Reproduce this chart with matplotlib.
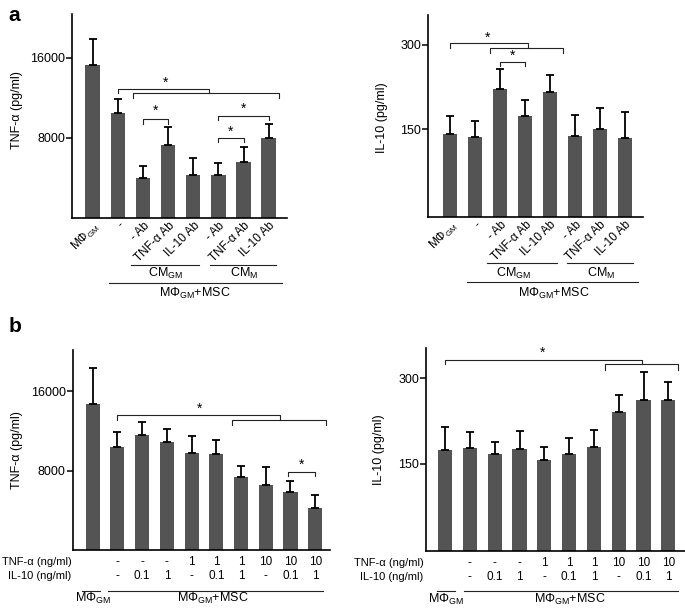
import numpy as np
import matplotlib
matplotlib.use('Agg')
import matplotlib.pyplot as plt

plt.rcParams['font.family'] = ['Liberation Sans', 'DejaVu Sans']
plt.rcParams['mathtext.fontset'] = 'custom'
plt.rcParams['mathtext.rm'] = 'Liberation Sans'
plt.rcParams['mathtext.it'] = 'Liberation Sans:italic'

# ── Data ─────────────────────────────────────────────────────────────────────
MGM = 'MΦ$_{\\mathrm{GM}}$'
a_labels     = [MGM, '-', '- Ab', 'TNF-α Ab', 'IL-10 Ab', '- Ab', 'TNF-α Ab', 'IL-10 Ab']
a_tnf_mean   = [15260, 10490, 3990, 7330, 4330, 4330, 5630, 7960]
a_tnf_err    = [2600, 1400, 1200, 1760, 1660, 1130, 1460, 1400]
a_il10_mean  = [141, 136, 222, 173, 216, 138, 150, 134]
a_il10_err   = [33, 28, 35, 30, 31, 38, 37, 47]

b_tnf_mean   = [14680, 10360, 11540, 10870, 9790, 9690, 7320, 6580, 5870, 4190]
b_tnf_err    = [3620, 1520, 1350, 1350, 1690, 1350, 1190, 1830, 1120, 1350]
b_il10_mean  = [174, 177, 167, 176, 156, 167, 180, 240, 262, 262]
b_il10_err   = [40, 28, 21, 32, 24, 29, 29, 31, 49, 32]
b_tnf_dose   = ['', '-', '-', '-', '1', '1', '1', '10', '10', '10']
b_il10_dose  = ['', '-', '0.1', '1', '-', '0.1', '1', '-', '0.1', '1']
# ─────────────────────────────────────────────────────────────────────────────

BAR_COLOR = '#545454'
FS = 9


def bars(ax, mean, err, ybot, ylim, xlim, ticks):
    x = np.arange(len(mean))
    mean = np.asarray(mean, float)
    ax.bar(x, mean - ybot, 0.57, bottom=ybot, color=BAR_COLOR, zorder=2)
    ax.errorbar(x, mean, yerr=[np.zeros(len(err)), err], fmt='none',
                ecolor='black', elinewidth=1.3, capsize=3, capthick=1.3, zorder=3)
    ax.set_xlim(*xlim)
    ax.set_ylim(ybot, ylim)
    ax.set_yticks(ticks)
    ax.set_yticklabels([str(t) for t in ticks], fontsize=FS)
    ax.tick_params(axis='y', direction='out', length=4, width=1.1, pad=1)
    ax.tick_params(axis='x', length=0)
    for s in ['top', 'right']:
        ax.spines[s].set_visible(False)
    for s in ['left', 'bottom']:
        ax.spines[s].set_linewidth(1.2)
    return x


def bracket(ax, x0, x1, y, dl, dr, lw=0.8):
    ax.plot([x0, x0, x1, x1], [y - dl, y, y, y - dr], color='#222222',
            lw=lw, clip_on=False, zorder=4)


def star(ax, x, y):
    ax.text(x, y, '*', ha='center', va='center', fontsize=10, clip_on=False)


def group_line(ax, x0, x1, y, lw=0.8):
    ax.plot([x0, x1], [y, y], color='#222222', lw=lw,
            transform=ax.get_xaxis_transform(), clip_on=False)


def group_text(ax, x, y, s):
    ax.text(x, y, s, ha='center', va='center', fontsize=FS,
            transform=ax.get_xaxis_transform())


def rotated_labels(ax, x, labels):
    ax.set_xticks(x)
    ax.set_xticklabels(labels, rotation=45, ha='right', va='top',
                       rotation_mode='anchor', fontsize=8.5)
    ax.tick_params(axis='x', pad=1)


def dose_table(ax, x, label_x):
    tr = ax.get_xaxis_transform()
    ax.set_xticks([])
    ax.text(label_x, -0.06, 'TNF-α (ng/ml)', ha='right', va='center',
            fontsize=8, transform=tr)
    ax.text(label_x, -0.131, 'IL-10 (ng/ml)', ha='right', va='center',
            fontsize=8, transform=tr)
    for xi, t, i in zip(x, b_tnf_dose, b_il10_dose):
        ax.text(xi, -0.06, t, ha='center', va='center', fontsize=8.5, transform=tr)
        ax.text(xi, -0.131, i, ha='center', va='center', fontsize=8.5, transform=tr)


fig = plt.figure(figsize=(6.85, 6.09), dpi=100)

# ── a, TNF-α ──
ax = fig.add_axes([0.1051, 0.642, 0.3139, 0.335])
x = bars(ax, a_tnf_mean, a_tnf_err, 0, 20360, (-0.82, 7.73), [8000, 16000])
rotated_labels(ax, x, a_labels)
ax.set_ylabel('TNF-α (pg/ml)', fontsize=FS)
ax.yaxis.set_label_coords(-0.228, 0.53)
bracket(ax, 1.0, 4.64, 12830, 400, 400)
bracket(ax, 1.62, 7.42, 12430, 500, 500)
star(ax, 2.88, 13460)
bracket(ax, 2.0, 3.0, 9860, 430, 430)
star(ax, 2.5, 10660)
bracket(ax, 5.0, 7.0, 10190, 430, 430)
star(ax, 6.0, 10900)
bracket(ax, 5.0, 6.0, 7990, 400, 400)
star(ax, 5.5, 8600)
group_line(ax, 1.51, 4.25, -0.23)
group_text(ax, 2.9, -0.27, 'CM$_{\\mathrm{GM}}$')
group_line(ax, 4.68, 7.3, -0.23)
group_text(ax, 6.03, -0.27, 'CM$_{\\mathrm{M}}$')
group_line(ax, 0.66, 7.53, -0.317)
group_text(ax, 4.08, -0.368, MGM + '+MSC')
fig.text(0.012, 0.99, 'a', fontsize=15, fontweight='bold', va='top')

# ── a, IL-10 ──
ax = fig.add_axes([0.6253, 0.6432, 0.3130, 0.3322])
x = bars(ax, a_il10_mean, a_il10_err, -6.6, 353.4, (-0.87, 7.71), [150, 300])
rotated_labels(ax, x, a_labels)
ax.set_ylabel('IL-10 (pg/ml)', fontsize=FS)
ax.yaxis.set_label_coords(-0.19, 0.49)
bracket(ax, 0.0, 3.1, 303, 9, 9)
bracket(ax, 1.6, 4.5, 294, 9, 9)
star(ax, 1.5, 313)
bracket(ax, 2.0, 3.0, 270, 7, 7)
star(ax, 2.5, 280)
group_line(ax, 1.47, 4.27, -0.224)
group_text(ax, 2.53, -0.277, 'CM$_{\\mathrm{GM}}$')
group_line(ax, 4.67, 7.31, -0.224)
group_text(ax, 6.04, -0.277, 'CM$_{\\mathrm{M}}$')
group_line(ax, 0.67, 7.53, -0.318)
group_text(ax, 4.13, -0.376, MGM + '+MSC')

# ── b, TNF-α ──
ax = fig.add_axes([0.1061, 0.0969, 0.3757, 0.3284])
x = bars(ax, b_tnf_mean, b_tnf_err, 0, 20150, (-0.81, 9.6), [8000, 16000])
dose_table(ax, x, -0.85)
ax.set_ylabel('TNF-α (pg/ml)', fontsize=FS)
ax.yaxis.set_label_coords(-0.194, 0.5)
bracket(ax, 1.0, 7.58, 13570, 440, 510)
bracket(ax, 5.65, 9.45, 13060, 500, 500)
star(ax, 4.34, 14250)
bracket(ax, 7.9, 9.0, 7870, 450, 450)
star(ax, 8.45, 8550)
group_line(ax, -0.45, 0.3, -0.2035)
group_line(ax, 0.63, 9.31, -0.2035)
group_text(ax, 0.0, -0.243, MGM)
group_text(ax, 4.87, -0.243, MGM + '+MSC')
fig.text(0.012, 0.48, 'b', fontsize=15, fontweight='bold', va='top')

# ── b, IL-10 ──
ax = fig.add_axes([0.6219, 0.0957, 0.378, 0.3323])
x = bars(ax, b_il10_mean, b_il10_err, -1.75, 352, (-0.77, 9.67), [150, 300])
dose_table(ax, x, -0.875)
ax.set_ylabel('IL-10 (pg/ml)', fontsize=FS)
ax.yaxis.set_label_coords(-0.158, 0.5)
bracket(ax, 0.0, 7.93, 332, 8, 8)
bracket(ax, 6.45, 9.41, 324, 10, 10)
star(ax, 3.94, 344)
group_line(ax, -0.31, 0.4, -0.1976)
group_line(ax, 0.77, 9.41, -0.1976)
group_text(ax, 0.04, -0.243, MGM)
group_text(ax, 5.04, -0.243, MGM + '+MSC')

fig.savefig('out.png', dpi=100)
